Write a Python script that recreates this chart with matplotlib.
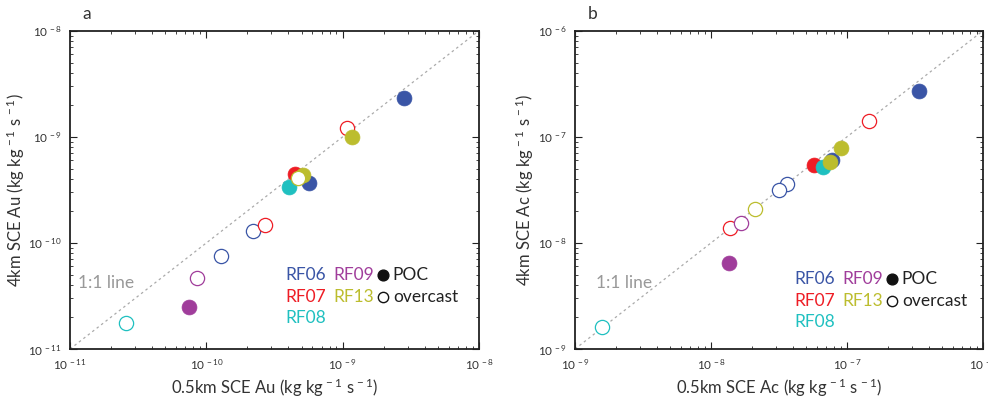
import matplotlib
matplotlib.use("Agg")
import matplotlib.pyplot as plt
from matplotlib.ticker import LogLocator, FuncFormatter, NullFormatter
import numpy as np

plt.rcParams['font.family'] = ['Lato', 'DejaVu Sans']
plt.rcParams['mathtext.fontset'] = 'custom'
plt.rcParams['mathtext.rm'] = 'Lato'
plt.rcParams['mathtext.it'] = 'Lato'
plt.rcParams['mathtext.bf'] = 'Lato'

# ---- data ----
flights = ['RF06', 'RF07', 'RF08', 'RF09', 'RF13']
flight_colors = {'RF06': '#3a55a6', 'RF07': '#ee1d25', 'RF08': '#1fc0c0',
                 'RF09': '#a03d9b', 'RF13': '#bcbd2e'}

pt_flight = ['RF06', 'RF06', 'RF06', 'RF06', 'RF07', 'RF07', 'RF07',
             'RF08', 'RF08', 'RF09', 'RF09', 'RF13', 'RF13', 'RF13']
pt_kind = ['POC', 'POC', 'overcast', 'overcast', 'overcast', 'POC', 'overcast',
           'POC', 'overcast', 'POC', 'overcast', 'POC', 'POC', 'overcast']

# autoconversion (panel a)
au_05km = [2.8e-9, 5.7e-10, 2.19e-10, 1.28e-10, 1.08e-9, 4.5e-10, 2.7e-10,
           4.06e-10, 2.59e-11, 7.47e-11, 8.6e-11, 1.17e-9, 5.15e-10, 4.73e-10]
au_4km = [2.32e-9, 3.68e-10, 1.29e-10, 7.56e-11, 1.2e-9, 4.5e-10, 1.49e-10,
          3.33e-10, 1.75e-11, 2.47e-11, 4.7e-11, 9.85e-10, 4.35e-10, 4.05e-10]

# accretion (panel b)
ac_05km = [3.38e-7, 7.7e-8, 3.64e-8, 3.16e-8, 1.46e-7, 5.72e-8, 1.38e-8,
           6.7e-8, 1.57e-9, 1.36e-8, 1.65e-8, 8.98e-8, 7.46e-8, 2.1e-8]
ac_4km = [2.7e-7, 6.1e-8, 3.56e-8, 3.12e-8, 1.41e-7, 5.44e-8, 1.39e-8,
          5.2e-8, 1.62e-9, 6.4e-9, 1.54e-8, 7.87e-8, 5.73e-8, 2.07e-8]

au_range = (1e-11, 1e-8)
ac_range = (1e-9, 1e-6)


def sci_fmt(v, pos):
    e = int(np.round(np.log10(v)))
    return r'$\mathregular{10^{\,%s}}$' % ('\u2212' + str(-e))


def draw_panel(ax, xs, ys, lims, letter, xlabel, ylabel, leg_x, leg_y, leg_dy, col2_dx, mk_dx, one_one_xy):
    ax.set_xscale('log')
    ax.set_yscale('log')
    ax.plot(lims, lims, ls=(0, (2, 2.5)), color='#aaaaaa', lw=0.9, zorder=1)
    for f in flights:
        for x, y, fl, k in zip(xs, ys, pt_flight, pt_kind):
            if fl != f:
                continue
            c = flight_colors[f]
            if k == 'POC':
                ax.scatter(x, y, s=115, facecolor=c, edgecolor=c, lw=0.5, zorder=3)
            else:
                ax.scatter(x, y, s=105, facecolor='white', edgecolor=c, lw=0.9, zorder=3)
    ax.set_xlim(lims)
    ax.set_ylim(lims)
    ax.xaxis.set_major_locator(LogLocator(base=10, numticks=10))
    ax.yaxis.set_major_locator(LogLocator(base=10, numticks=10))
    ax.xaxis.set_major_formatter(FuncFormatter(sci_fmt))
    ax.yaxis.set_major_formatter(FuncFormatter(sci_fmt))
    ax.xaxis.set_minor_formatter(NullFormatter())
    ax.yaxis.set_minor_formatter(NullFormatter())
    ax.tick_params(which='both', direction='in', top=True, right=True,
                   labelsize=8.5, labelcolor='#333333', color='#222222')
    ax.tick_params(which='major', length=5, width=0.8, pad=6)
    ax.tick_params(which='minor', length=2.5, width=0.6)
    for sp in ax.spines.values():
        sp.set_linewidth(1.3)
        sp.set_color('#222222')
    ax.set_xlabel(xlabel, fontsize=12, color='#333333', labelpad=3)
    ax.set_ylabel(ylabel, fontsize=12, color='#333333', labelpad=1)
    ax.text(0.03, 1.052, letter, transform=ax.transAxes, fontsize=12.5,
            color='#333333', va='center', ha='left')
    ax.text(one_one_xy[0], one_one_xy[1], '1:1 line', transform=ax.transAxes,
            fontsize=12.5, color='#999999', va='center', ha='left')

    # legend built from text
    col1 = ['RF06', 'RF07', 'RF08']
    col2 = ['RF09', 'RF13']
    for i, f in enumerate(col1):
        ax.text(leg_x, leg_y - i * leg_dy, f, transform=ax.transAxes, fontsize=12.5,
                color=flight_colors[f], va='center', ha='left')
    for i, f in enumerate(col2):
        ax.text(leg_x + col2_dx, leg_y - i * leg_dy, f, transform=ax.transAxes,
                fontsize=12.5, color=flight_colors[f], va='center', ha='left')
    mx = leg_x + col2_dx + mk_dx
    ax.scatter([mx], [leg_y], s=60, facecolor='#111111', edgecolor='#111111',
               transform=ax.transAxes, zorder=4, clip_on=False)
    ax.scatter([mx], [leg_y - leg_dy], s=55, facecolor='white', edgecolor='#111111',
               lw=1.0, transform=ax.transAxes, zorder=4, clip_on=False)
    ax.text(mx + 0.024, leg_y, 'POC', transform=ax.transAxes, fontsize=12.5,
            color='#222222', va='center', ha='left')
    ax.text(mx + 0.024, leg_y - leg_dy, 'overcast', transform=ax.transAxes,
            fontsize=12.5, color='#222222', va='center', ha='left')


fig = plt.figure(figsize=(9.88, 3.98), dpi=100)
ax1 = fig.add_axes([0.0709, 0.1231, 0.414, 0.7998])
ax2 = fig.add_axes([0.582, 0.1231, 0.413, 0.7998])

unit = r'(kg kg$^{\mathregular{\,-1}}$ s$^{\mathregular{\,-1}}$)'
draw_panel(ax1, au_05km, au_4km, au_range, 'a',
           '0.5km SCE Au ' + unit, '4km SCE Au ' + unit,
           0.526, 0.232, 0.0675, 0.117, 0.122, (0.02, 0.207))
draw_panel(ax2, ac_05km, ac_4km, ac_range, 'b',
           '0.5km SCE Ac ' + unit, '4km SCE Ac ' + unit,
           0.537, 0.219, 0.0675, 0.118, 0.122, (0.051, 0.208))

fig.savefig('out.png', dpi=100)
